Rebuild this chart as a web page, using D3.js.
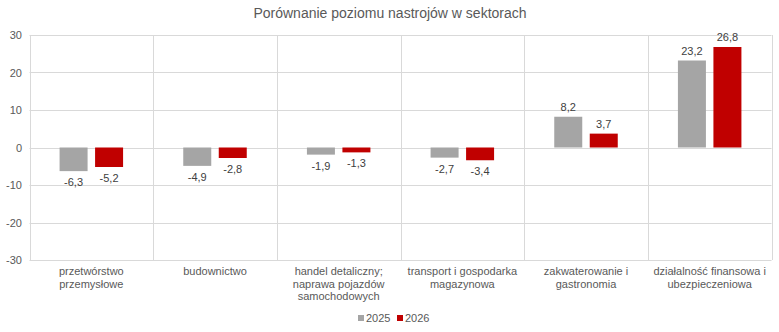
<!DOCTYPE html>
<html><head><meta charset="utf-8">
<script src="https://cdn.jsdelivr.net/npm/d3@7"></script>
<style>body{margin:0;background:#fff}svg{display:block}</style>
</head><body>
<svg id="c" width="779" height="332"></svg>
<script>
const categories = [
  ["przetwórstwo", "przemysłowe"],
  ["budownictwo"],
  ["handel detaliczny;", "naprawa pojazdów", "samochodowych"],
  ["transport i gospodarka", "magazynowa"],
  ["zakwaterowanie i", "gastronomia"],
  ["działalność finansowa i", "ubezpieczeniowa"]
];
const seriesNames = ["2025", "2026"];
const values2025 = [-6.3, -4.9, -1.9, -2.7, 8.2, 23.2];
const values2026 = [-5.2, -2.8, -1.3, -3.4, 3.7, 26.8];
const yTicks = [-30, -20, -10, 0, 10, 20, 30];
const colors = ["#a5a5a5", "#c00000"];

const svg = d3.select("#c");
const font = "'Liberation Sans', Arial, sans-serif";
const L = 29.5, R = 771.5, T = 35, B = 260;
const x = d3.scaleBand().domain(d3.range(categories.length)).range([L, R]);
const y = d3.scaleLinear().domain([-30, 30]).range([B, T]);
const bw = 28, gap = 7.5;

svg.append("text").attr("x", 390).attr("y", 18).attr("text-anchor", "middle")
  .attr("font-family", font).attr("font-size", 14).attr("fill", "#595959")
  .text("Porównanie poziomu nastrojów w sektorach");

// horizontal gridlines
svg.append("g").selectAll("line").data(yTicks).join("line")
  .attr("x1", L).attr("x2", R).attr("y1", d => Math.round(y(d)) + 0.5).attr("y2", d => Math.round(y(d)) + 0.5)
  .attr("stroke", "#d9d9d9").attr("stroke-width", 1);
// vertical gridlines
const xs = d3.range(categories.length + 1).map(i => L + i * x.bandwidth());
svg.append("g").selectAll("line").data(xs).join("line")
  .attr("x1", d => Math.round(d) + 0.5).attr("x2", d => Math.round(d) + 0.5)
  .attr("y1", T).attr("y2", B)
  .attr("stroke", "#d9d9d9").attr("stroke-width", 1);

// y tick labels
svg.append("g").selectAll("text").data(yTicks).join("text")
  .attr("x", 22).attr("y", d => y(d) + 4).attr("text-anchor", "end")
  .attr("font-family", font).attr("font-size", 11).attr("fill", "#595959")
  .text(d => d);

const series = [values2025, values2026];
series.forEach((vals, s) => {
  const g = svg.append("g");
  const bx = i => x(i) + x.bandwidth() / 2 + (s === 0 ? -gap / 2 - bw : gap / 2);
  g.selectAll("rect").data(vals).join("rect")
    .attr("x", (d, i) => bx(i)).attr("width", bw)
    .attr("y", d => y(Math.max(0, d))).attr("height", d => Math.abs(y(d) - y(0)))
    .attr("fill", colors[s]);
  g.selectAll("text").data(vals).join("text")
    .attr("x", (d, i) => bx(i) + bw / 2)
    .attr("y", d => d >= 0 ? y(d) - 6 : y(d) + 15)
    .attr("text-anchor", "middle").attr("font-family", font).attr("font-size", 11).attr("fill", "#404040")
    .text(d => d3.format(".1f")(d).replace(".", ",").replace("−", "-"));
});

// category labels
categories.forEach((lines, i) => {
  const t = svg.append("text").attr("x", x(i) + x.bandwidth() / 2).attr("y", 275)
    .attr("text-anchor", "middle").attr("font-family", font).attr("font-size", 11).attr("fill", "#595959");
  lines.forEach((ln, k) => t.append("tspan").attr("x", x(i) + x.bandwidth() / 2).attr("dy", k === 0 ? 0 : 12.5).text(ln));
});

// legend
const leg = svg.append("g");
const lx = [358, 397];
seriesNames.forEach((n, s) => {
  leg.append("rect").attr("x", lx[s]).attr("y", 315).attr("width", 6).attr("height", 6).attr("fill", colors[s]);
  leg.append("text").attr("x", lx[s] + 8).attr("y", 322).attr("font-family", font).attr("font-size", 11)
    .attr("fill", "#595959").text(n);
});
</script>
</body></html>
